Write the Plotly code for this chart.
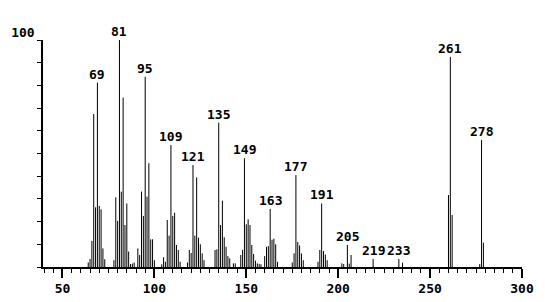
import plotly.graph_objects as go

# m/z values and relative intensities (%)
mz = [64, 65, 66, 67, 68, 69, 70, 71, 72, 73,
      78, 79, 80, 81, 82, 83, 84, 85, 86, 87, 88, 89,
      91, 92, 93, 94, 95, 96, 97, 98, 99, 100,
      104, 105, 106, 107, 108, 109, 110, 111, 112, 113, 114,
      118, 119, 120, 121, 122, 123, 124, 125, 126, 127,
      133, 134, 135, 136, 137, 138, 139, 140, 141, 143, 144,
      147, 148, 149, 150, 151, 152, 153, 154, 155, 156, 157, 158,
      160, 161, 162, 163, 164, 165, 166, 167,
      175, 176, 177, 178, 179, 180, 181,
      189, 190, 191, 192, 193, 194,
      202, 203, 205, 206, 207,
      219, 233, 235,
      260, 261, 262,
      277, 278, 279]
intensity = [2, 3.5, 11.5, 67.4, 26.3, 81.2, 26.9, 25.4, 8.2, 3.4,
             3, 30.7, 20.3, 100, 33.2, 74.6, 18.5, 28, 6.8, 1.3, 1.5, 2,
             8.2, 5.3, 33.2, 22.5, 83.8, 31, 45.7, 12.2, 12.2, 3,
             1.2, 4.3, 2.3, 20.7, 13.8, 53.7, 22.5, 23.9, 9.7, 7.5, 2.3,
             2, 7.5, 6.2, 44.9, 13.8, 39.5, 12.9, 10, 6, 3,
             7.5, 7.8, 63.6, 18.5, 29.2, 13.1, 8.9, 4.8, 3.8, 1.6, 1.6,
             5.3, 7.5, 47.9, 18.8, 21, 18.5, 9.7, 5.7, 2.8, 1.6, 1.4, 1.2,
             4.8, 8.9, 9.2, 25.6, 12, 12.5, 10, 2.3,
             2, 6, 40.5, 11, 9.5, 6, 3,
             2.3, 7.5, 28, 7, 5.5, 3,
             1.6, 1.3, 9.7, 1.5, 5.3,
             3.5, 3.5, 1.9,
             31.7, 92.5, 22.9,
             1.3, 56, 10.7]

labeled = [69, 81, 95, 109, 121, 135, 149, 163, 177, 191, 205, 219, 233, 261, 278]

x_ticks = [50, 100, 150, 200, 250, 300]
y_ticks = [0, 10, 20, 30, 40, 50, 60, 70, 80, 90, 100]
y_ticktext = ["", "", "", "", "", "", "", "", "", "", "100"]

FONT = dict(family="DejaVu Sans Mono", size=13, color="black", weight="bold")

# stick spectrum: one vertical segment per peak
sx, sy = [], []
for m, v in zip(mz, intensity):
    sx += [m, m, None]
    sy += [0, v, None]

fig = go.Figure()
fig.add_trace(go.Scatter(x=sx, y=sy, mode="lines",
                         line=dict(color="black", width=1),
                         hoverinfo="skip", cliponaxis=False))

lookup = dict(zip(mz, intensity))
for m in labeled:
    fig.add_annotation(x=m, y=lookup[m], text=str(m), showarrow=False,
                       xanchor="center", yanchor="bottom", yshift=-1,
                       font=FONT)

fig.update_layout(
    width=545, height=302,
    margin=dict(l=43, r=23, t=40, b=35),
    paper_bgcolor="white", plot_bgcolor="white",
    showlegend=False,
    xaxis=dict(range=[39.4, 300], tickvals=x_ticks, ticks="outside",
               ticklen=9, tickwidth=1.5, tickcolor="black",
               showline=True, linecolor="black", linewidth=1.5,
               showgrid=False, zeroline=False, tickfont=FONT,
               ticklabelstandoff=0, automargin=False,
               minor=dict(dtick=5, tick0=0, ticks="outside", ticklen=4,
                          tickwidth=1, tickcolor="black", showgrid=False)),
    yaxis=dict(range=[0, 100], tickvals=y_ticks, ticktext=y_ticktext,
               ticks="outside", ticklen=4, tickwidth=1, tickcolor="black",
               showline=True, linecolor="black", linewidth=1.5,
               showgrid=False, zeroline=False, tickfont=FONT,
               ticklabelshift=-8, automargin=False),
)

fig.write_html("out.html")
